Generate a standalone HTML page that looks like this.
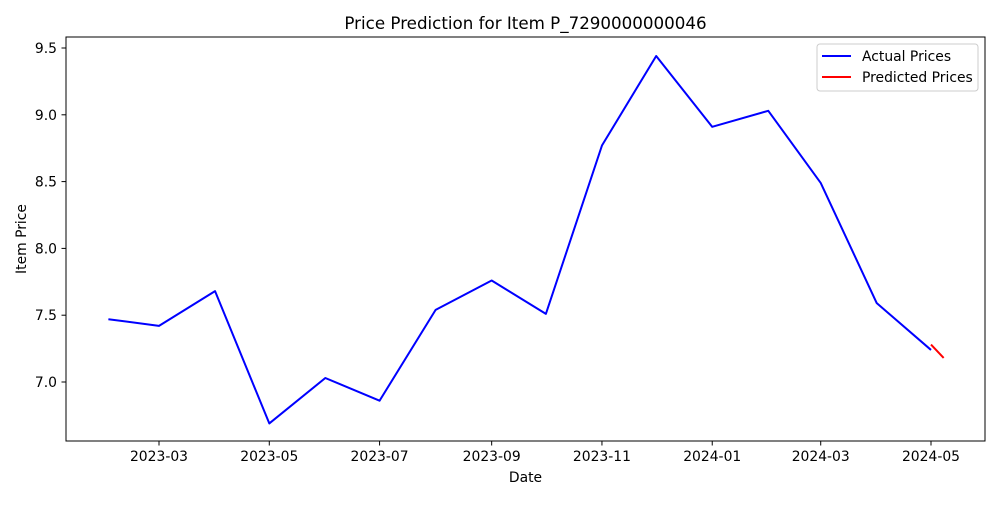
<!DOCTYPE html>
<html><head><meta charset="utf-8"><style>
body{margin:0;background:#fff}
svg text{font-family:"DejaVu Sans","Liberation Sans",sans-serif;fill:#000}
</style></head><body>
<svg id="chart" width="1000" height="500" xmlns="http://www.w3.org/2000/svg">
<text x="525.5" y="29" font-size="16.7" text-anchor="middle">Price Prediction for Item P_7290000000046</text>
<rect x="66" y="37" width="919" height="404" fill="none" stroke="#000" stroke-width="1"/>
<text x="525.5" y="482" font-size="13.9" text-anchor="middle">Date</text>
<text transform="translate(26,239) rotate(-90)" font-size="13.9" text-anchor="middle">Item Price</text>
<g>
<rect x="817" y="44" width="161" height="47" rx="3" fill="#fff" stroke="#ccc"/>
<line x1="822" y1="56" x2="851" y2="56" stroke="#0000ff" stroke-width="2"/>
<text x="862" y="61" font-size="13.9">Actual Prices</text>
<line x1="822" y1="77" x2="851" y2="77" stroke="#ff0000" stroke-width="2"/>
<text x="862" y="82" font-size="13.9">Predicted Prices</text>
</g>
</svg>
<script>
const actualDates=["2023-02-01","2023-03-01","2023-04-01","2023-05-01","2023-06-01","2023-07-01","2023-08-01","2023-09-01","2023-10-01","2023-11-01","2023-12-01","2024-01-01","2024-02-01","2024-03-01","2024-04-01","2024-05-01"];
const actualPrices=[7.47,7.42,7.68,6.69,7.03,6.86,7.54,7.76,7.51,8.77,9.44,8.91,9.03,8.49,7.59,7.24];
const predDates=["2024-05-01","2024-05-08"];
const predPrices=[7.28,7.18];
const xTicks=["2023-03","2023-05","2023-07","2023-09","2023-11","2024-01","2024-03","2024-05"];
const yTicks=[7.0,7.5,8.0,8.5,9.0,9.5];

const svg=document.getElementById('chart');
const NS="http://www.w3.org/2000/svg";
const t0=Date.parse("2023-03-01"),t1=Date.parse("2024-05-01");
function xs(d){const t=Date.parse(d.length===7?d+"-01":d);return 159+(t-t0)/(t1-t0)*772;}
function ys(v){return 382-(v-7.0)*133.6;}
function mk(tag,attrs){const e=document.createElementNS(NS,tag);for(const k in attrs)e.setAttribute(k,attrs[k]);svg.appendChild(e);return e;}
xTicks.forEach(l=>{const x=xs(l);
 const ln=mk('line',{x1:x,y1:441,x2:x,y2:445.5,stroke:'#000'});
 
 
 const tx=mk('text',{x:x,y:461,'font-size':13.9,'text-anchor':'middle'});tx.textContent=l;
 
 
});
yTicks.forEach(v=>{const y=ys(v);
 const ln=mk('line',{x1:61.5,y1:y,x2:66,y2:y,stroke:'#000'});
 
 
 const tx=mk('text',{x:57,y:y+5,'font-size':13.9,'text-anchor':'end'});tx.textContent=v.toFixed(1);
 
 
});
const a=mk('polyline',{points:actualDates.map((d,i)=>xs(d)+','+ys(actualPrices[i])).join(' '),fill:'none',stroke:'#0000ff','stroke-width':2,'stroke-linejoin':'round'});


const p=mk('polyline',{points:predDates.map((d,i)=>xs(d)+','+ys(predPrices[i])).join(' '),fill:'none',stroke:'#ff0000','stroke-width':2});


</script>
</body></html>
